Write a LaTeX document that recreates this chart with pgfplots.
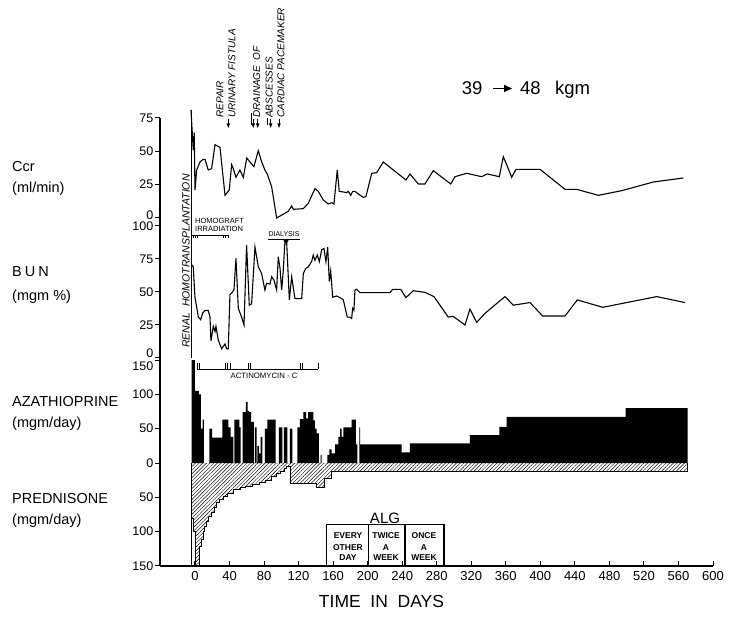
\documentclass[border=0pt]{standalone}
\usepackage{fontspec}
\setmainfont{Liberation Sans}
\usepackage{pgfplots}
\pgfplotsset{compat=1.18}
\usetikzlibrary{patterns.meta,arrows.meta}

\pgfplotsset{
 base/.style={scale only axis, width=553pt, xmin=-40.5, xmax=600,
   axis y line*=left, clip=false,
   axis line style={line width=1.6pt},
   tick style={black, line width=1pt},
   ytick align=outside, major tick length=5pt,
   yticklabel style={font=\fontsize{12.5}{14}\selectfont, inner sep=1.5pt},
   /pgf/number format/assume math mode=true,
 },
 top/.style={base, axis x line=none, xtick=\empty},
}

\begin{document}
\begin{tikzpicture}
\useasboundingbox (0,0) rectangle (729pt,618pt);

% ---------------- Ccr ----------------
\begin{axis}[top, at={(160pt,400pt)}, anchor=south west, height=100pt,
  ymin=0, ymax=75, ytick={25,50,75},
  extra y ticks={0}, extra y tick style={tick label style={yshift=3pt}}]
\draw[line width=0.9pt] (axis cs:-4.5,0) -- (axis cs:-4.5,81);
\addplot[black, line width=1.1pt] coordinates {
(-4.6,81) (-2,51) (-0.8,64) (0,21) (2,36) (5.8,42) (9.6,44) (11.6,44) (15.4,36) (19.3,37) (23.2,55) (29,53) (34.8,17) (39.7,21) (42.5,40) (44.4,37) (47.5,30.5) (52,36) (56,30.5) (60,45) (63.7,42) (68.3,38.5) (73.3,50.5) (77.3,42) (81,36) (83.7,33) (88.8,23.5) (94.6,0) (108,5) (112,9) (113.9,6.5) (125.5,7) (131.2,11) (139,22) (142.8,20) (148.6,13.5) (154.4,10.5) (158.3,11.5) (161,10.5) (164.8,36) (167.1,20) (171.8,19.5) (175.7,19) (177.6,20) (180.4,17) (182.7,20) (185.3,20) (189.2,18) (195,15.5) (198,16) (204.7,33.5) (210.5,34) (218.1,42) (244.4,28.5) (249,33) (258.7,25.5) (266.4,25.5) (276,35.5) (296.2,25.5) (301.2,31) (314.7,33.5) (332,31) (338.6,33) (352.5,31) (357.1,46) (361,40) (366.8,30.5) (371.8,36.5) (399.6,36.5) (428.6,21.5) (442,21.5) (467.2,17) (494.3,20.5) (530.9,27) (565.6,30)
};
\end{axis}

% ---------------- BUN ----------------
\begin{axis}[top, at={(160pt,260pt)}, anchor=south west, height=140pt,
  ymin=0, ymax=106.06, ytick={25,50,75,100},
  extra y ticks={0}, extra y tick style={tick label style={yshift=5pt}}]
\draw[line width=0.9pt] (axis cs:-4.5,0) -- (axis cs:-4.5,106);
\addplot[black, line width=1.1pt] coordinates {
(-3.1,70.5) (-2,69) (0,46) (3.9,31) (6.6,29) (8.9,34) (11.6,36) (15.4,36) (17.4,31) (18.5,13) (21.2,24) (23.2,20) (24.3,24) (27,13.6) (30.9,7) (34.8,10.6) (36.7,7) (38.6,7) (40.5,48) (43.6,50) (45.2,52) (47.5,75.5) (50.2,37.6) (54,31) (56.8,25) (59.8,85.6) (62.9,40) (65.6,41) (69.5,84) (73.4,69) (77.2,64) (81,51.5) (83,56.6) (86.9,56) (88.8,61.6) (91.5,59) (94.6,51.5) (96.5,76.7) (98.5,68) (100.4,51.5) (102.3,66.7) (104.2,88) (106.2,88) (109.3,44) (112,61.6) (115.8,45) (123.6,45) (125.5,64) (128.6,68) (131.2,69) (135.1,73) (137,78) (139,74) (141.7,78) (144,73) (146.8,82) (149.4,83) (151.7,73) (153.7,84) (155.6,58) (157.2,66) (159.5,46) (164.1,47) (169.9,45) (171.8,44) (176.4,31) (179.5,31) (181.5,30) (182.6,37.6) (184.1,36) (185.3,51.5) (187.3,52) (191.1,49.5) (225.9,49.5) (229,52) (238.3,52) (244.4,45.7) (252.9,51) (266.4,49.7) (276.8,46.5) (293.4,31) (299,31.5) (302.3,30) (312.7,25) (318.5,37) (326.3,27) (335.9,33.8) (353.3,43.4) (359.1,46.5) (368.7,40) (388,42) (402.7,31.8) (428.6,31.8) (442.8,44) (472.3,38.4) (534.8,46.5) (567.6,42)
};
\end{axis}

% ---------------- Azathioprine / Prednisone ----------------
\begin{axis}[base, at={(160pt,52pt)}, anchor=south west, height=207.5pt,
  ymin=-150, ymax=152.2,
  axis x line*=bottom, xtick align=inside,
  xtick={0,40,...,600},
  xticklabel style={font=\fontsize{13}{15}\selectfont, yshift=-2pt},
  ytick={-150,-100,-50,0,50,100}, yticklabels={150,100,50,0,50,100},
  extra y ticks={150}, extra y tick labels={150},
  extra y tick style={tick label style={yshift=-6pt}}]
% azathioprine (mgm/day)
\addplot[const plot, fill=black, draw=none] coordinates {
(-4,0) (-4,150) (0,105) (4.6,100) (6.9,50) (8.9,63) (10.4,0) (16.6,50) (20,37) (31.7,63) (38.6,52) (41.3,38) (44.4,0) (45.6,63) (51.4,52) (52.9,0) (55.2,74) (59.1,89) (61,76) (62.5,74) (64.9,60) (68.3,0) (69.5,52) (71.4,0) (72.2,25) (74.1,14) (76,38) (78,0) (81.1,50) (83.8,63) (93.4,0) (97.3,52) (101.2,0) (103.1,52) (107,0) (110,50) (112.7,0) (118.5,52) (121.6,64) (125.5,74) (128.6,65) (131.2,74) (137,62) (139,50) (141,43) (143.5,0) (145.6,12) (146.7,0) (153.5,12) (155.6,20) (158.3,14) (162.2,27) (166,38) (168,50) (170,38) (172,52) (181.5,63) (186.5,27) (188,0) (190.3,52) (191.3,27) (239.4,15.5) (249,28.5) (318.5,40.5) (352.5,52.6) (361,67) (498.9,80) (570.7,0)
};
% prednisone (mgm/day), drawn downward
\addplot[const plot, draw=black, line width=0.7pt, pattern={Lines[angle=45,distance=2.6pt,line width=0.45pt]}] coordinates {
(-4,0) (-4,-80) (-2,-100) (1,-150) (5,-121) (7.6,-111) (9.5,-100) (11.4,-92) (13.4,-85) (15.3,-78) (19,-72) (22,-65) (25,-58) (28,-53) (33,-49) (38,-44) (45,-39) (52,-36) (58,-34) (67,-31) (74,-28) (81,-25) (88,-20) (94,-15) (99,-12) (103,-8) (106,-5) (110,-29) (141,-36) (150,-22) (158,-12.5) (570.7,-12.5) (570.7,0)
};
\draw[line width=0.9pt] (axis cs:-4.5,-150) -- (axis cs:-4.5,0);
% ALG box
\draw[line width=1.1pt] (axis cs:152.6,-150) rectangle (axis cs:288.4,-89);
\draw[line width=1.1pt] (axis cs:200.8,-150) -- (axis cs:200.8,-89);
\draw[line width=1.1pt] (axis cs:243.3,-150) -- (axis cs:243.3,-89);
\end{axis}

% ---------------- left labels ----------------
\begin{scope}[every node/.style={anchor=west, inner sep=0pt, font=\fontsize{14.5}{16}\selectfont}]
\node at (12pt,451.3pt) {Ccr};
\node at (12pt,429.7pt) {(ml/min)};
\node at (12pt,346.3pt) {B\hspace{3pt}U\hspace{3pt}N};
\node at (12pt,321.3pt) {(mgm \%)};
\node at (12pt,216.3pt) {AZATHIOPRINE};
\node at (12pt,194.7pt) {(mgm/day)};
\node at (12pt,119.7pt) {PREDNISONE};
\node at (12pt,97pt) {(mgm/day)};
\end{scope}

% ---------------- rotated annotations ----------------
\node[rotate=90, anchor=west, inner sep=0pt, font=\fontsize{10.5}{12}\selectfont\itshape] at (186pt,270pt) {RENAL\ \ HOMOTRANSPLANTATION};
\begin{scope}[every node/.style={rotate=90, anchor=west, inner sep=0pt, font=\fontsize{10}{12}\selectfont\itshape}]
\node at (220pt,500pt) {REPAIR};
\node at (232pt,500pt) {URINARY FISTULA};
\node at (256.7pt,500pt) {DRAINAGE\ \ OF};
\node at (269.3pt,500pt) {ABSCESSES};
\node at (281pt,500pt) {CARDIAC PACEMAKER};
\end{scope}
\begin{scope}[line width=0.8pt, -{Triangle[width=3.2pt,length=4.5pt]}]
\draw (228.3pt,499pt) -- (228.3pt,490pt);
\draw (253.3pt,499pt) -- (253.3pt,490pt);
\draw (257.7pt,499pt) -- (257.7pt,490pt);
\draw (270.7pt,499pt) -- (270.7pt,490pt);
\draw (279pt,499pt) -- (279pt,490pt);
\end{scope}
\draw[line width=0.8pt] (251.7pt,505pt) -- (251.7pt,493pt);
\draw[line width=0.8pt] (267.7pt,500pt) -- (267.7pt,493pt);

% ---------------- small annotations ----------------
\node[anchor=base west, inner sep=0pt, font=\fontsize{7.5}{9}\selectfont] at (195pt,394.7pt) {HOMOGRAFT};
\node[anchor=base west, inner sep=0pt, font=\fontsize{7.5}{9}\selectfont] at (195pt,386.3pt) {IRRADIATION};
\draw[line width=0.8pt] (192pt,383pt) -- (228.3pt,383pt);
\foreach \xx in {193.3,195.3,197.3,223.5,225.8,228}{\draw[line width=0.7pt] (\xx pt,383pt) -- (\xx pt,379.5pt);}

\node[anchor=base, inner sep=0pt, font=\fontsize{7}{9}\selectfont] at (284pt,381pt) {DIALYSIS};
\draw[line width=0.8pt] (268pt,378.5pt) -- (300pt,378.5pt);
\fill (283pt,378.5pt) -- (289pt,378.5pt) -- (286pt,373.5pt) -- cycle;

\draw[line width=0.8pt] (197.3pt,248.7pt) -- (318.3pt,248.7pt);
\foreach \xx in {197.3,199.5,225,227.5,230,248.3,250.7,300,302,318.3}{\draw[line width=0.7pt] (\xx pt,248.7pt) -- (\xx pt,254.7pt);}
\node[anchor=base, inner sep=0pt, font=\fontsize{7.75}{9}\selectfont] at (264pt,239.5pt) {ACTINOMYCIN - C};

% ---------------- ALG texts ----------------
\node[anchor=base, inner sep=0pt, font=\fontsize{15}{17}\selectfont] at (385pt,94.5pt) {ALG};
\begin{scope}[every node/.style={anchor=base, inner sep=0pt, font=\fontsize{8.5}{10}\selectfont\bfseries}]
\node at (348pt,79.5pt) {EVERY};
\node at (348pt,67.8pt) {OTHER};
\node at (348pt,57.2pt) {DAY};
\node at (386pt,79.5pt) {TWICE};
\node at (386pt,67.8pt) {A};
\node at (386pt,57.2pt) {WEEK};
\node at (424pt,79.5pt) {ONCE};
\node at (424pt,67.8pt) {A};
\node at (424pt,57.2pt) {WEEK};
\end{scope}

% ---------------- titles ----------------
\node[anchor=base, inner sep=0pt, font=\fontsize{17.5}{20}\selectfont] at (381.5pt,10pt) {TIME\ \ IN\ \ DAYS};
\node[anchor=base west, inner sep=0pt, font=\fontsize{18.5}{20}\selectfont] at (461.7pt,523pt) {39};
\draw[line width=1.6pt, -{Triangle[width=7pt,length=8pt]}] (493pt,529.5pt) -- (512pt,529.5pt);
\node[anchor=base west, inner sep=0pt, font=\fontsize{18.5}{20}\selectfont] at (520pt,523pt) {48};
\node[anchor=base west, inner sep=0pt, font=\fontsize{18.5}{20}\selectfont] at (555pt,523pt) {kgm};
\end{tikzpicture}
\end{document}
